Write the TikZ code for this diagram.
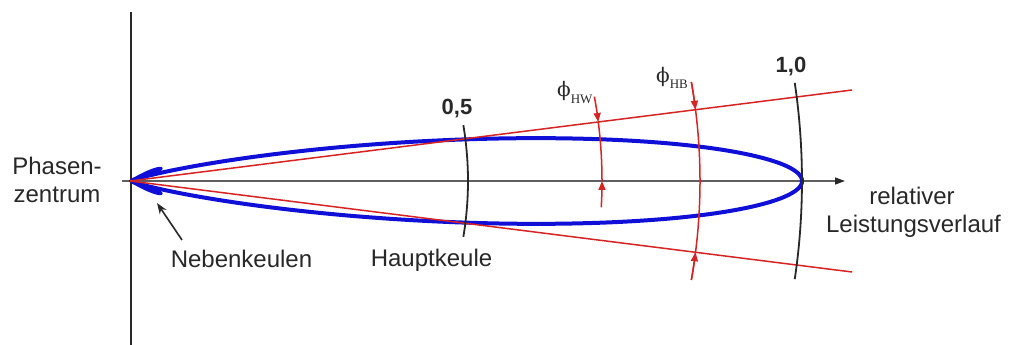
\documentclass[tikz,border=0pt]{standalone}
\usepackage{fontspec}
\setmainfont{Liberation Sans}
\newfontfamily\subfont{Liberation Serif}
\newfontfamily\phifont{DejaVu Serif}
\usetikzlibrary{arrows.meta}
\definecolor{lobeblue}{RGB}{15,15,215}
\definecolor{beamred}{RGB}{215,35,35}
\definecolor{axisgray}{RGB}{95,95,95}
\definecolor{inkgray}{RGB}{40,40,40}
\begin{document}
\begin{tikzpicture}[x=1pt,y=1pt,
  lbl/.style={font=\fontsize{24}{28}\selectfont, text=inkgray, inner sep=0pt},
  num/.style={font=\fontsize{22}{26}\selectfont\bfseries, text=inkgray, inner sep=0pt},
  beam/.style={beamred, line width=1.5pt},
  marc/.style={inkgray, line width=1.8pt},
  lobe/.style={lobeblue, line width=4pt, line join=round},
  redtip/.style={-{Triangle[length=9pt,width=7pt]}},
  phil/.style={inner sep=0pt, anchor=base west, text=inkgray, font=\subfont},
]
\useasboundingbox (0,0) rectangle (1009,345);
% reference points
\coordinate (O) at (130,164);
\coordinate (vt) at (131,333);
\coordinate (vb) at (131,0);
\coordinate (ax0) at (122,164);
\coordinate (ax1) at (845,164);
\coordinate (ru) at (852,255);
\coordinate (rd) at (852,73);
% vertical line
\draw[inkgray, line width=2pt] (vb) -- (vt);
% axis
\draw[axisgray, line width=1.3pt, -{Triangle[length=10pt,width=7pt,color=inkgray]}] (ax0) -- (ax1);
% main lobe
\draw[lobe] plot[domain=-21:21, samples=241, smooth]
  ({130+672*exp(-0.013738*\x*\x)*cos(\x)}, {164+672*exp(-0.013738*\x*\x)*sin(\x)});
% side lobes
\filldraw[lobe, line width=2pt] plot[domain=12:32, samples=40, smooth]
  ({130+34*sin((\x-12)*9)*cos(\x)}, {164+34*sin((\x-12)*9)*sin(\x)}) -- cycle;
\filldraw[lobe, line width=2pt] plot[domain=-32:-12, samples=40, smooth]
  ({130+34*sin((\x+32)*9)*cos(\x)}, {164+34*sin((\x+32)*9)*sin(\x)}) -- cycle;
% beam lines
\draw[beam] (O) -- (ru);
\draw[beam] (O) -- (rd);
% power arcs
\draw[marc] (O) ++(9.5:338) arc[start angle=9.5, end angle=-9.5, radius=338];
\draw[marc] (O) ++(8.4:672) arc[start angle=8.4, end angle=-8.4, radius=672];
% HB arc
\draw[beam] (O) ++(10:570) arc[start angle=10, end angle=-10, radius=570];
\draw[beam, redtip] (O) ++(10:570) arc[start angle=10, end angle=7.18, radius=570];
\draw[beam, redtip] (O) ++(-10:570) arc[start angle=-10, end angle=-7.18, radius=570];
% HW arc
\draw[beam, redtip] (O) ++(10.3:472) arc[start angle=10.3, end angle=7.18, radius=472];
\draw[beam] (O) ++(7.18:472) arc[start angle=7.18, end angle=0, radius=472];
\draw[beam, redtip] (O) ++(-3.2:472) arc[start angle=-3.2, end angle=0, radius=472];
% labels
\node[lbl, anchor=base] (ph1) at (57,170) {Phasen-};
\node[lbl, anchor=base] (ph2) at (57,142) {zentrum};
\node[lbl, anchor=base] (neb) at (241.5,77) {Nebenkeulen};
\node[lbl, anchor=base] (haupt) at (431.5,78) {Hauptkeule};
\node[lbl, anchor=base] (rel1) at (912,140) {relativer};
\node[lbl, anchor=base] (rel2) at (913.5,112) {Leistungsverlauf};
\node[num, anchor=base] (n05) at (457,230) {0,5};
\node[num, anchor=base] (n10) at (791,272) {1,0};
\node[phil] (phw) at (557,248) {{\phifont\fontsize{20}{20}\selectfont ϕ}\raisebox{-7pt}{\fontsize{13}{13}\selectfont HW}};
\node[phil] (phb) at (656,262) {{\phifont\fontsize{20}{20}\selectfont ϕ}\raisebox{-6pt}{\fontsize{13}{13}\selectfont HB}};
% Nebenkeulen pointer
\coordinate (nt) at (182,105);
\coordinate (nk) at (157,142);
\draw[inkgray, line width=1.6pt, -{Stealth[length=11pt,width=8pt]}] (nt) -- (nk);
\end{tikzpicture}
\end{document}
